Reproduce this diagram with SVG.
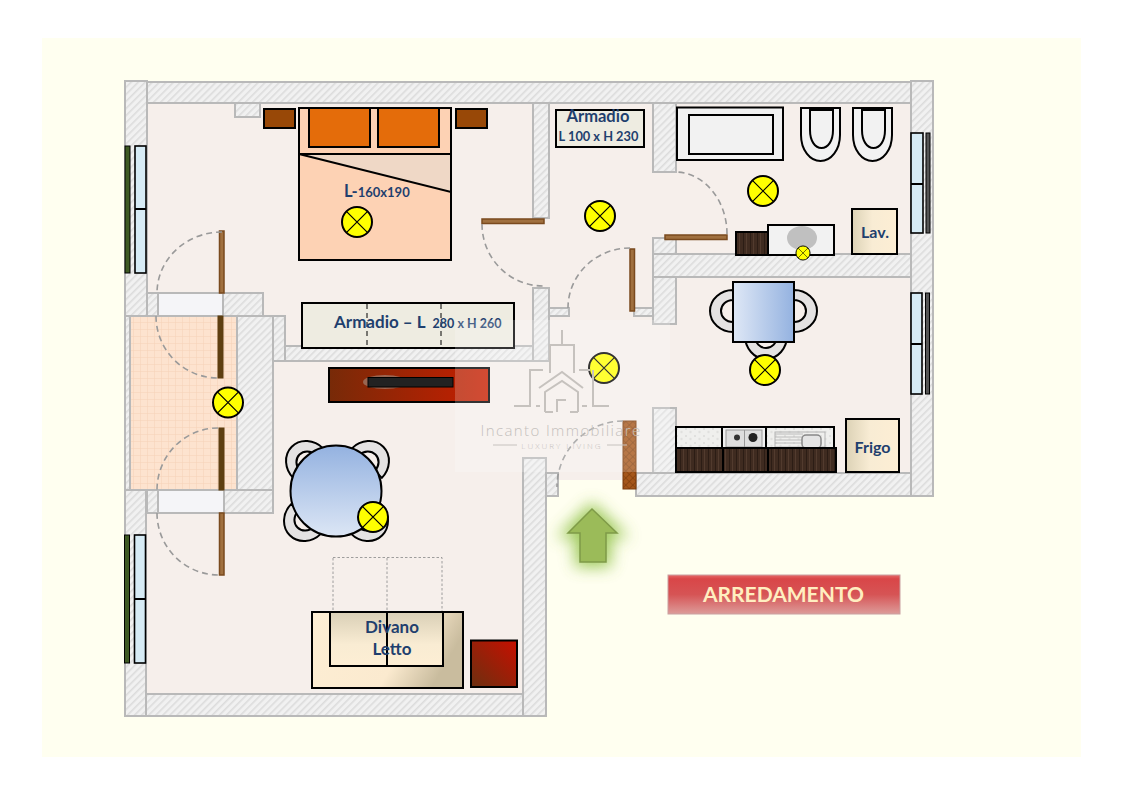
<svg xmlns="http://www.w3.org/2000/svg" xmlns:xlink="http://www.w3.org/1999/xlink" width="1123" height="794" viewBox="0 0 1123 794">
<style>
.wall{fill:url(#hatch);stroke:#b9b9b9;stroke-width:2}
.floorw{fill:#f5f5f8;stroke:#b9b9b9;stroke-width:2}
.door{fill:#a0703f;stroke:#7a4a1e;stroke-width:1.5}
.ddoor{fill:#5e3f10;stroke:#5e3f10;stroke-width:1}
.arc{fill:none;stroke:#9a9a9a;stroke-width:1.6;stroke-dasharray:6 4}
.k{stroke:#000;stroke-width:2}
.light circle{fill:#ffff00;stroke:#000;stroke-width:2}
.light path{fill:none;stroke:#000;stroke-width:1.2}
.chair{fill:#e4e2e2;stroke:#000;stroke-width:2}
.win{fill:#d6ebf5;stroke:#000;stroke-width:1.6}
.t{font-family:"Lato","Liberation Sans",sans-serif;font-weight:700;fill:#1f3f6e;text-anchor:middle}
.ts{text-anchor:start}
</style>
<defs>
<pattern id="hatch" width="5" height="5" patternUnits="userSpaceOnUse" patternTransform="rotate(-45)">
<rect width="5" height="5" fill="#f1f1f1"/><rect width="5" height="1.6" fill="#dcdcdc"/>
</pattern>
<pattern id="grid" width="7" height="7" patternUnits="userSpaceOnUse">
<rect width="7" height="7" fill="#fde3cf"/><path d="M0 0H7M0 0V7" stroke="#f6d2b8" stroke-width="1" fill="none"/>
</pattern>
<pattern id="wood" width="7" height="30" patternUnits="userSpaceOnUse">
<rect width="7" height="30" fill="#3f2b20"/><path d="M1.500 0V30" stroke="#2c1d15" stroke-width="1"/><path d="M4.500 0V30" stroke="#523b2e" stroke-width="1"/>
</pattern>
<pattern id="marble" width="9" height="7" patternUnits="userSpaceOnUse">
<rect width="9" height="7" fill="#efefed"/><circle cx="2" cy="2" r="1" fill="#dcdcda"/><circle cx="6.500" cy="5" r="1.200" fill="#e0e0de"/>
</pattern>
<pattern id="cross" width="5" height="5" patternUnits="userSpaceOnUse" patternTransform="rotate(45)">
<rect width="5" height="5" fill="#a5561a"/><path d="M0 0H5M0 0V5" stroke="#7a3a0a" stroke-width="1.200"/>
</pattern>
<linearGradient id="gRound" x1="0" y1="0" x2="0" y2="1"><stop offset="0" stop-color="#94b2e0"/><stop offset="1" stop-color="#dce6f5"/></linearGradient>
<linearGradient id="gSq" x1="0" y1="0" x2="1" y2="0"><stop offset="0" stop-color="#dfe8f6"/><stop offset="1" stop-color="#94b2e0"/></linearGradient>
<linearGradient id="gTv" x1="0" y1="0" x2="1" y2="0"><stop offset="0" stop-color="#772a08"/><stop offset="1" stop-color="#c81e00"/></linearGradient>
<linearGradient id="gBox" x1="0" y1="1" x2="1" y2="0"><stop offset="0" stop-color="#6b3010"/><stop offset="1" stop-color="#c80f00"/></linearGradient>
<linearGradient id="gCream" x1="0" y1="0" x2="1" y2="0"><stop offset="0" stop-color="#dcd2b6"/><stop offset=".45" stop-color="#f8ecd4"/><stop offset="1" stop-color="#fdeed4"/></linearGradient>
<linearGradient id="gSofa" x1="0" y1="0" x2="1" y2=".3"><stop offset="0" stop-color="#fdeed4"/><stop offset=".68" stop-color="#fbeacf"/><stop offset="1" stop-color="#c9bc9e"/></linearGradient>
<linearGradient id="gSofa2" x1="0" y1="0" x2="0" y2="1"><stop offset="0" stop-color="#d9cfb6"/><stop offset=".6" stop-color="#f9ecd3"/><stop offset="1" stop-color="#fdeed4"/></linearGradient>
<linearGradient id="gBtn" x1="0" y1="0" x2="0" y2="1"><stop offset="0" stop-color="#e66a6a"/><stop offset=".1" stop-color="#d94648"/><stop offset=".5" stop-color="#d65455"/><stop offset="1" stop-color="#dd9c9a"/></linearGradient>
<filter id="glow" x="-60%" y="-60%" width="220%" height="220%"><feGaussianBlur stdDeviation="8"/></filter>
<path id="ch" class="chair" d="M0-21C-12-21-23-12-23 0C-23 12-12 21 0 21L0 11C-7 11-12 6-12 0C-12-6-7-11 0-11Z"/>
<g id="lamp" class="light"><circle r="15"/><path d="M-10.600-10.600L10.600 10.600M-10.600 10.600L10.600-10.600"/></g>
</defs>

<rect width="1123" height="794" fill="#ffffff"/>
<rect x="42" y="38" width="1039" height="719" fill="#fffff0"/>
<path id="floor" d="M125 81H933V496H636V480H546V716H125Z" fill="#f6efeb"/>
<rect x="130" y="316" width="107" height="174" fill="url(#grid)"/>

<g id="walls">
<rect class="wall" x="147" y="82" width="764" height="21"/>
<rect class="wall" x="125" y="81" width="22" height="235"/>
<rect class="wall" x="911" y="81" width="22" height="415"/>
<rect class="wall" x="235" y="103" width="25" height="14"/>
<rect class="wall" x="147" y="293" width="116" height="23"/>
<rect class="floorw" x="158" y="293" width="65" height="23"/>
<rect class="wall" x="125" y="316" width="5" height="174"/>
<rect class="wall" x="237" y="316" width="36" height="174"/>
<rect class="wall" x="273" y="316" width="12" height="45"/>
<rect class="wall" x="285" y="346" width="249" height="15"/>
<rect class="wall" x="147" y="490" width="126" height="23"/>
<rect class="floorw" x="158" y="490" width="66" height="23"/>
<rect class="wall" x="125" y="490" width="21" height="226"/>
<rect class="wall" x="146" y="694" width="377" height="22"/>
<rect class="wall" x="523" y="458" width="23" height="258"/>
<rect class="wall" x="546" y="473" width="12" height="23"/>
<rect class="wall" x="636" y="473" width="275" height="23"/>
<rect class="wall" x="653" y="408" width="23" height="65"/>
<rect class="wall" x="653" y="277" width="23" height="47"/>
<rect class="wall" x="653" y="254" width="258" height="23"/>
<rect class="wall" x="653" y="238" width="23" height="16"/>
<rect class="wall" x="653" y="103" width="23" height="69"/>
<rect class="wall" x="533" y="103" width="16" height="115"/>
<rect class="wall" x="533" y="288" width="16" height="73"/>
<rect class="wall" x="549" y="308" width="20" height="8"/>
<rect class="wall" x="634" y="308" width="19" height="8"/>
</g>

<g id="windows">
<rect x="125" y="146" width="5" height="127" fill="#3f5a24" stroke="#000"/>
<rect class="win" x="135" y="146" width="11" height="127"/><path class="k" d="M135 209H146"/>
<rect x="124.500" y="535" width="5" height="128" fill="#3f5a24" stroke="#000"/>
<rect class="win" x="134.500" y="535" width="11" height="128"/><path class="k" d="M134 599H146"/>
<rect class="win" x="911" y="133" width="12" height="100"/><path class="k" d="M911 184H923"/>
<rect x="926" y="133" width="4" height="100" fill="#555" stroke="#000"/>
<rect class="win" x="911" y="293" width="11" height="101"/><path class="k" d="M911 344H922"/>
<rect x="925.500" y="293" width="4" height="101" fill="#555" stroke="#000"/>
</g>

<g id="doors">
<rect class="door" x="219.500" y="231" width="4.500" height="62"/><path class="arc" d="M222 232A65 61 0 0 0 157 293"/>
<rect class="ddoor" x="218" y="316" width="5" height="62"/><path class="arc" d="M156 316A62 62 0 0 0 218 378"/>
<rect class="ddoor" x="219" y="428" width="5" height="62"/><path class="arc" d="M218 428A61 62 0 0 0 157 490"/>
<rect class="door" x="219.500" y="513" width="4.500" height="62"/><path class="arc" d="M157 513A62 62 0 0 0 219 575"/>
<rect class="door" x="482" y="219" width="62" height="4.500"/><path class="arc" d="M482 224A61 62 0 0 0 543 286"/>
<rect class="door" x="630" y="249" width="4.500" height="62"/><path class="arc" d="M630 248A62 60 0 0 0 568 308"/>
<rect class="door" x="665" y="235" width="62" height="4.500"/><path class="arc" d="M727 234A52 62 0 0 0 675 172"/>
<rect x="623" y="421" width="13" height="68" fill="url(#cross)" stroke="#7a3a0a" stroke-width="1"/><path class="arc" d="M623 421A66 66 0 0 0 557 487"/>
</g>

<g id="bed">
<rect class="k" x="299" y="108" width="152" height="152" fill="#fdd2b4"/>
<path d="M299 154H451V192Z" fill="#efd8c6" stroke="#000" stroke-width="2"/>
<rect class="k" x="309" y="108" width="61" height="39" fill="#e46c0a"/>
<rect class="k" x="378" y="108" width="61" height="39" fill="#e46c0a"/>
<text class="t ts" x="344" y="197" font-size="16.500">L-<tspan font-size="13">160x190</tspan></text>
</g>
<rect id="nightstand-left" class="k" x="264" y="109" width="31" height="19" fill="#984807"/>
<rect id="nightstand-right" class="k" x="456" y="109" width="31" height="19" fill="#984807"/>

<g id="wardrobe-big">
<rect class="k" x="302" y="303" width="212" height="45" fill="#eeece1"/>
<path d="M367 304V348M441 304V348" stroke="#000" stroke-width="1" stroke-dasharray="5 4"/>
<text class="t ts" x="334" y="328" font-size="17">Armadio – L</text><text class="t" x="467" y="328" font-size="12.500">280 x H 260</text>
</g>
<g id="tv-unit">
<rect class="k" x="329" y="368" width="160" height="34" fill="url(#gTv)"/>
<ellipse cx="385" cy="382" rx="22" ry="7" fill="#a08070" opacity=".7"/>
<rect x="368" y="377.500" width="85" height="9.500" fill="#222" stroke="#000"/>
</g>
<g id="wardrobe-small">
<rect class="k" x="556" y="110" width="88" height="37" fill="#eeece1"/>
<text class="t" x="598" y="122" font-size="16.500">Armadio</text>
<text class="t" x="598.500" y="141" font-size="12.800">L 100 x H 230</text>
</g>

<g id="bath">
<rect class="k" x="677" y="107.500" width="106" height="52.500" fill="#f2f2f2"/>
<rect class="k" x="689" y="115" width="84" height="39" fill="#f2f2f2"/>
<path class="k" fill="#f2f2f2" d="M801 108H840V135C840 150 831 161 820.500 161C810 161 801 150 801 135Z"/>
<path class="k" fill="#f2f2f2" d="M810 110H833V130C833 141 828 148 821.500 148C815 148 810 141 810 130Z"/>
<path class="k" fill="#f2f2f2" d="M853 108H892V135C892 150 883 161 872.500 161C862 161 853 150 853 135Z"/>
<path class="k" fill="#f2f2f2" d="M862 110H885V130C885 141 880 148 873.500 148C867 148 862 141 862 130Z"/>
<rect class="k" x="736" y="232" width="32" height="23" fill="url(#wood)"/>
<rect class="k" x="768" y="225" width="66" height="30" fill="#f2f2f2"/>
<ellipse cx="802" cy="238" rx="15" ry="12" fill="#c0c0c0"/>
<rect class="k" x="852" y="209" width="45" height="45" fill="url(#gCream)"/>
<text class="t" x="875" y="238" font-size="16">Lav.</text>
</g>

<g id="kitchen-table">
<use href="#ch" transform="translate(733 311)"/>
<use href="#ch" transform="translate(794 311) scale(-1 1)"/>
<use href="#ch" transform="translate(766 336) rotate(-90)"/>
<rect class="k" x="733" y="282" width="61" height="60" fill="url(#gSq)"/>
</g>

<g id="kitchen">
<rect class="k" x="676" y="427" width="46" height="21" fill="url(#marble)"/>
<rect class="k" x="722" y="427" width="44" height="21" fill="#f0f0f0"/>
<rect x="726" y="430" width="36" height="17" fill="#dedede" stroke="#9a9a9a"/>
<circle cx="737" cy="437.500" r="3" fill="#333"/><circle cx="753" cy="437.500" r="4.500" fill="#222"/>
<path d="M744.500 430V447" stroke="#999"/>
<rect class="k" x="766" y="427" width="68" height="21" fill="url(#marble)"/>
<path d="M775 434H803M775 437H803M775 440H803M775 443H803" stroke="#bcbcbc"/>
<rect x="775" y="432" width="50" height="15" fill="none" stroke="#b4b4b4"/>
<rect x="802" y="435" width="19" height="13" rx="4" fill="#e4e4e4" stroke="#888" stroke-width="1.500"/>
<rect class="k" x="676" y="448" width="47" height="24" fill="url(#wood)"/>
<rect class="k" x="723" y="448" width="45" height="24" fill="url(#wood)"/>
<rect class="k" x="768" y="448" width="68" height="24" fill="url(#wood)"/>
<rect class="k" x="846" y="419" width="53" height="53" fill="url(#gCream)"/>
<text class="t" x="872.500" y="453" font-size="16">Frigo</text>
</g>

<g id="round-table">
<use href="#ch" transform="translate(308 463) rotate(45)"/>
<use href="#ch" transform="translate(367 463) rotate(135)"/>
<use href="#ch" transform="translate(306 519) rotate(-45)"/>
<use href="#ch" transform="translate(366 519) rotate(-135)"/>
<circle class="k" cx="336" cy="491" r="45.500" fill="url(#gRound)"/>
</g>

<g id="sofa">
<rect x="333" y="557.500" width="109" height="54.500" fill="none" stroke="#888" stroke-width=".8" stroke-dasharray="2.500 2"/>
<path d="M387 558V612" stroke="#888" stroke-width=".8" stroke-dasharray="2.500 2"/>
<rect class="k" x="312" y="612" width="151" height="76" fill="url(#gSofa)"/>
<rect class="k" x="330" y="612" width="113" height="54" fill="url(#gSofa2)"/>
<path class="k" d="M387 612V666"/>
<text class="t" x="392" y="633" font-size="17">Divano</text>
<text class="t" x="392" y="655" font-size="17">Letto</text>
</g>
<rect id="side-box" class="k" x="471" y="640.500" width="46" height="46.500" fill="url(#gBox)"/>

<g id="lights">
<use href="#lamp" x="357" y="222"/>
<use href="#lamp" x="228" y="402.500"/>
<use href="#lamp" x="373" y="517"/>
<use href="#lamp" x="600" y="216"/>
<use href="#lamp" x="604" y="368"/>
<use href="#lamp" x="763" y="191"/>
<use href="#lamp" x="765" y="370"/>
<use href="#lamp" transform="translate(803 253) scale(.47)"/>
</g>

<g id="entry-arrow">
<path d="M592 509L617 533H606V562H580V533H568Z" fill="#8cc040" opacity=".85" stroke="#8cc040" stroke-width="10" filter="url(#glow)"/>
<path d="M592 509L617 533H606V562H580V533H568Z" fill="#9bbb59" stroke="#7f9b48" stroke-width="1.500"/>
</g>

<g id="title">
<rect x="668" y="575" width="232" height="39" fill="url(#gBtn)" stroke="#c9a0a0" stroke-width="1"/>
<text x="783.500" y="602" font-family="Lato,'Liberation Sans',sans-serif" font-weight="700" font-size="21" fill="#ffeec0" text-anchor="middle">ARREDAMENTO</text>
</g>

<g id="watermark">
<rect x="455" y="320" width="215" height="152" fill="#ffffff" opacity=".2"/>
<path d="M562 330V345M550 373V345H574V373M543 370H530V406H514M536 406H540M579 370H590M593 370V406H609M582 406H587M539 388L562 372L583 388M545 412V392L562 381L578 392V412M545 412H553M570 412H578M557 412V400H566" fill="none" stroke="#c6c2be" stroke-width="2"/>
<text x="561" y="436" font-family="'Open Sans','Liberation Sans',sans-serif" font-weight="300" font-size="15" letter-spacing="1.400" fill="#c4c0bc" text-anchor="middle">Incanto Immobiliare</text>
<text x="562" y="449" font-family="'Open Sans','Liberation Sans',sans-serif" font-weight="300" font-size="8" letter-spacing="2" fill="#c4c0bc" text-anchor="middle">LUXURY LIVING</text>
<path d="M493 445H517M607 445H627" stroke="#c6c2be" stroke-width="1"/>
</g>
</svg>
